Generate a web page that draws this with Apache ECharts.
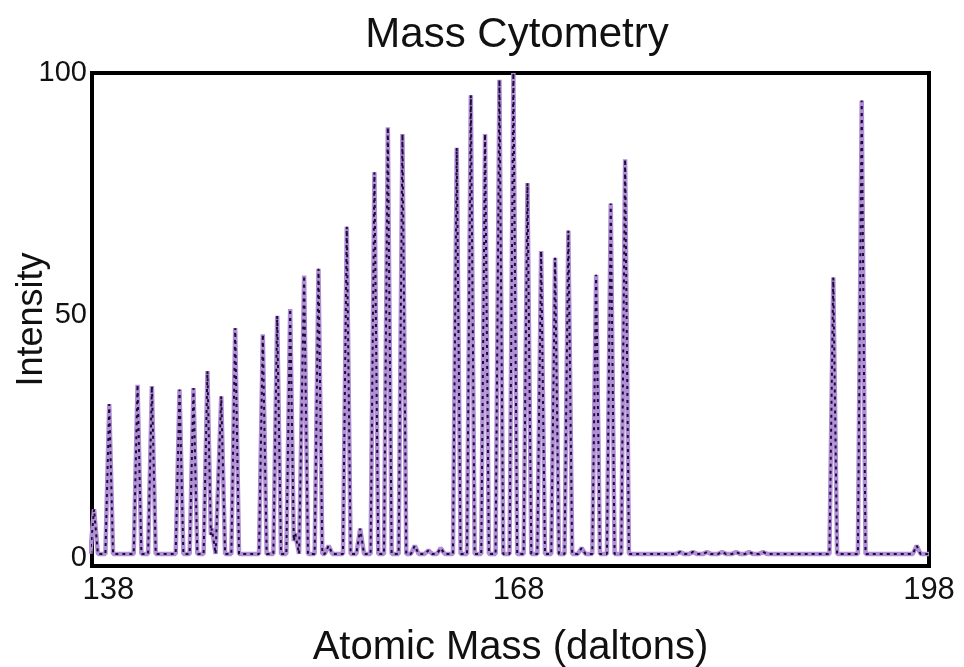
<!DOCTYPE html>
<html>
<head>
<meta charset="utf-8">
<script src="https://cdn.jsdelivr.net/npm/echarts@6/dist/echarts.min.js"></script>
<style>
html,body{margin:0;padding:0;background:#fff;}
#chart{width:964px;height:667px;}
</style>
</head>
<body>
<div id="chart"></div>
<script>
// Peak positions (daltons) and heights (intensity)
const peakMass = [136.95, 138.06, 140.13, 141.18, 143.20, 144.22, 145.24, 145.56, 146.25, 147.27,
  149.29, 150.34, 151.29, 151.66, 152.31, 153.36, 154.10, 155.43, 156.41, 157.45, 158.43, 159.50,
  160.40, 161.40, 162.30, 163.47, 164.50, 165.54, 166.59, 167.61, 168.64, 169.64, 170.66, 171.63,
  172.60, 173.66, 174.73, 175.78, 179.80, 180.75, 181.77, 182.87, 183.89, 184.84, 185.87,
  191.00, 193.08, 197.10];
const peakHeight = [10, 31.7, 35.7, 35.4, 34.7, 35.0, 38.5, 6, 33.3, 47.4,
  46.1, 49.9, 51.3, 5, 58.2, 59.6, 2.5, 68.3, 6, 79.5, 88.8, 87.4,
  2.5, 1.5, 2, 84.6, 95.4, 87.4, 98.6, 100, 77.3, 63.3, 61.9, 67.5,
  2, 58.4, 73.1, 82.2, 1.2, 1.2, 1.2, 1.2, 1.2, 1.2, 1.2,
  57.8, 94.3, 2.5];
const xTicks = [138, 168, 198];
const yTicks = [0, 50, 100];

// build the spectrum trace (narrow triangular peaks on a low baseline)
const W = 0.28, BASE = 0.8;
const trace = [];
for (let i = 0; i < peakMass.length; i++) {
  const m = peakMass[i], h = peakHeight[i];
  if (trace.length && trace[trace.length - 1][0] > m - W) {
    const m1 = peakMass[i - 1], h1 = peakHeight[i - 1];
    const s1 = (BASE - h1) / W, s2 = (h - BASE) / W;
    const x = (BASE - h1 + s1 * m1 - s2 * (m - W)) / (s1 - s2);
    const y = h1 + s1 * (x - m1);
    trace[trace.length - 1] = [x, y];
  } else {
    trace.push([m - W, BASE]);
  }
  trace.push([m, h]);
  trace.push([m + W, BASE]);
}
trace.push([198, BASE]);

const font = 'Liberation Sans, Arial, Helvetica, sans-serif';
const chart = echarts.init(document.getElementById('chart'));
chart.setOption({
  animation: false,
  backgroundColor: '#fff',
  title: {
    text: 'Mass Cytometry',
    left: 512, top: 9, textAlign: 'center',
    textStyle: {fontFamily: font, fontSize: 42, fontWeight: 'normal', color: '#111'}
  },
  grid: {left: 92, right: 35, top: 73, bottom: 101, show: true, outerBoundsMode: 'none',
    containLabel: false, borderColor: '#000', borderWidth: 4, backgroundColor: '#fff'},
  xAxis: {
    type: 'value', min: 136.8, max: 198,
    name: 'Atomic Mass (daltons)', nameLocation: 'middle', nameGap: 62, nameMoveOverlap: false,
    nameTextStyle: {fontFamily: font, fontSize: 40, color: '#111'},
    axisLine: {show: false}, axisTick: {show: false}, splitLine: {show: false},
    axisLabel: {customValues: xTicks, fontFamily: font, fontSize: 31, color: '#111', margin: 9}
  },
  yAxis: {
    type: 'value', min: -1.7, max: 100,
    name: 'Intensity', nameLocation: 'middle', nameGap: 42, nameMoveOverlap: false,
    nameTextStyle: {fontFamily: font, fontSize: 36, color: '#111'},
    axisLine: {show: false}, axisTick: {show: false}, splitLine: {show: false},
    axisLabel: {customValues: yTicks, fontFamily: font, fontSize: 29, color: '#111', margin: 5}
  },
  series: [
    {type: 'line', data: trace, showSymbol: false, clip: true,
      lineStyle: {color: '#b08fd6', width: 4.5}},
    {type: 'line', data: trace, showSymbol: false, clip: true,
      lineStyle: {color: '#1d0b38', width: 2, type: [3, 4]}}
  ]
});
</script>
</body>
</html>
